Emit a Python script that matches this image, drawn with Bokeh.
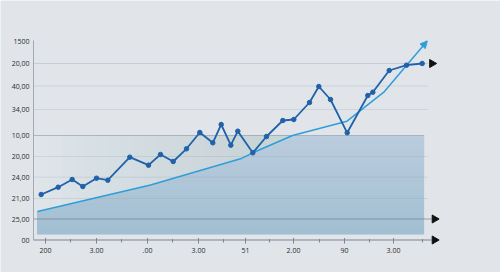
import numpy as np
from bokeh.plotting import figure
from bokeh.models import Range1d, Arrow, NormalHead
from bokeh.core.properties import value
from bokeh.embed import file_html
from bokeh.resources import INLINE

# ---- data (units are arbitrary chart units) ----
series_x = [7.7, 24.7, 38.7, 49.3, 63, 74.3, 96.3, 115, 127, 139.7, 153, 166.3, 179.3,
            187.7, 197.3, 204.3, 219.3, 233, 249.3, 260.3, 276, 285.3, 297, 313.7,
            334.3, 339.3, 355.7, 373, 388.7]
series_y = [45.5, 52.8, 60.5, 53.5, 61.8, 59.8, 82.8, 74.8, 85.5, 78.5, 91.2, 107.5, 97.2,
            115.5, 94.8, 108.8, 87.2, 103.5, 119.5, 120.5, 137.5, 153.5, 140.5, 107.2,
            144.5, 147.8, 169.5, 174.8, 176.5]
trend_x = [4, 117, 207, 219.3, 259, 313.5, 350.3, 393.7]
trend_y = [28.5, 55, 81.2, 87.2, 104.5, 118.8, 147.8, 199]

y_tick_pos = [0, 21, 41.5, 62.8, 83.5, 104.5, 130.5, 154, 176.5, 198.5]
y_tick_labels = ["00", "25,00", "21,00", "24,00", "20,00", "10,00", "34,00", "40,00", "20,00", "1500"]
x_major_pos = [12, 63, 114, 165, 212, 260, 311, 360]
x_minor_pos = [37, 88, 139, 190, 236, 286, 336, 389]
x_tick_labels = ["200", "3.00", ".00", "3.00", "51", "2.00", "90", "3.00"]

band_left, band_right, band_bottom, band_top = 3.7, 390.7, 5.5, 104.5

BG = "#e1e5ea"
DARK = "#2062a9"
TREND = "#2f9dd8"
AXIS = "#7b8594"
FONT = value("Open Sans")

# the frame covers the whole canvas; axes are drawn in data space so the
# arrowheads at the ends of the axis are not clipped
p = figure(width=500, height=272, output_backend="svg", toolbar_location=None,
           x_range=Range1d(-33, 467), y_range=Range1d(-32.5, 239.5),
           min_border=0)
p.axis.visible = False
p.background_fill_color = BG
p.border_fill_color = BG
p.outline_line_color = None
p.grid.visible = False

# trend clipped to the band (used only for the shaded shapes)
xs = np.linspace(band_left, band_right, 600)
ys = np.clip(np.interp(xs, trend_x, trend_y), band_bottom, band_top)

# lighter part of the band (above the trend): horizontal gradient built by stacking
n = 30
starts = np.linspace(band_left, band_right - 40, n)
for s in starts:
    m = xs >= s
    p.varea(x=xs[m], y1=ys[m], y2=band_top, fill_color="#b2c6da", fill_alpha=0.024)

# darker part under the trend, slightly darker towards the bottom
p.varea(x=xs, y1=band_bottom, y2=ys, fill_color="#9bb9d3", fill_alpha=0.55)
for lvl in np.linspace(band_top - 5, band_bottom + 8, 12):
    p.varea(x=xs, y1=band_bottom, y2=np.minimum(ys, lvl), fill_color="#7f9fbf", fill_alpha=0.02)

# grid lines
light_rows = [y_tick_pos[i] for i in (2, 3, 4, 6, 7)]
p.segment(x0=0, x1=394.5, y0=light_rows, y1=light_rows, line_color="#8d99a8",
          line_alpha=0.22, line_width=1)
p.segment(x0=0, x1=394.5, y0=y_tick_pos[8], y1=y_tick_pos[8], line_color="#8d99a8",
          line_alpha=0.32, line_width=1)
p.segment(x0=0, x1=band_right, y0=y_tick_pos[5], y1=y_tick_pos[5], line_color="#8e98a5",
          line_alpha=0.6, line_width=1)
p.segment(x0=0, x1=398, y0=y_tick_pos[1], y1=y_tick_pos[1], line_color="#6c7888",
          line_alpha=0.65, line_width=1)

# axis lines
p.segment(x0=0, x1=398, y0=0, y1=0, line_color=AXIS, line_width=1)
p.segment(x0=0, x1=0, y0=0, y1=y_tick_pos[-1] + 1, line_color="#a3aab4", line_width=1)

# x tick marks
p.segment(x0=x_major_pos, x1=x_major_pos, y0=2, y1=-3.5, line_color=AXIS, line_width=1)
p.segment(x0=x_minor_pos, x1=x_minor_pos, y0=1, y1=-2.5, line_color=AXIS, line_width=1)

# black arrowheads
p.scatter(x=[398.5, 401, 401], y=[y_tick_pos[8], y_tick_pos[1], 0], marker="triangle",
          angle=-np.pi / 2, size=8, fill_color="#111111", line_color="#111111")

# tick labels
p.text(x=x_major_pos, y=-10.5, text=x_tick_labels, text_font=FONT, text_font_size="7px",
       text_color="#2a2a2a", text_align="center", text_baseline="middle")
p.text(x=-4, y=y_tick_pos, text=y_tick_labels, text_font=FONT, text_font_size="7px",
       text_color="#2a2a2a", text_align="right", text_baseline="middle")

# trend line
p.line(trend_x, trend_y, line_color=TREND, line_width=1.5)
p.add_layout(Arrow(end=NormalHead(size=7, fill_color=TREND, line_color=TREND),
                   x_start=trend_x[-2], y_start=trend_y[-2], x_end=trend_x[-1], y_end=trend_y[-1],
                   line_color=TREND, line_alpha=0))

# main series
p.line(series_x, series_y, line_color=DARK, line_width=1.8)
p.scatter(series_x, series_y, size=4.5, fill_color=DARK, line_color=DARK)

open("out.html", "w").write(file_html(p, INLINE))
